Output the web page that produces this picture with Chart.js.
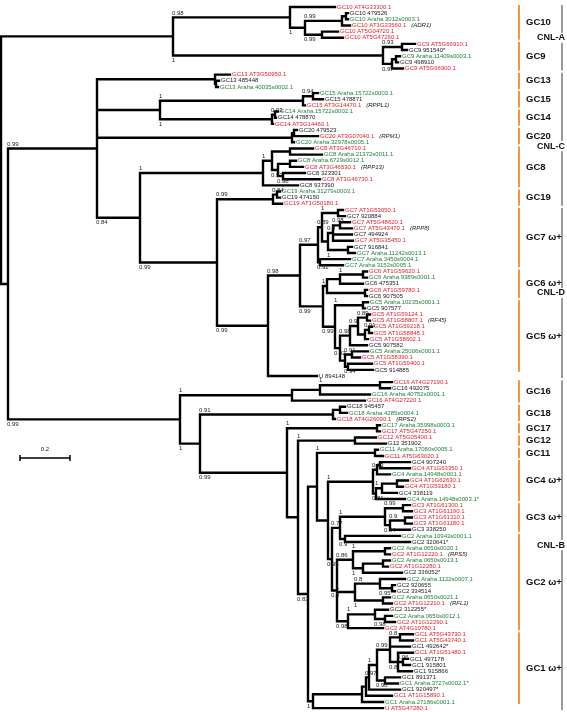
<!DOCTYPE html>
<html>
<head>
<meta charset="utf-8">
<script src="https://cdn.jsdelivr.net/npm/chart.js@4/dist/chart.umd.min.js"></script>
<style>
  html, body { margin: 0; padding: 0; background: #fff; }
  #wrap { width: 567px; height: 712px; position: relative; }
</style>
</head>
<body>
<div id="wrap"><canvas id="tree"></canvas></div>
<script>
// Leaf labels, top to bottom
const leafNames = [
  'GC10 AT4G33300.1', 'GC10 479526', 'GC10 Araha.3012s0003.1', 'GC10 AT1G33560.1', 'GC10 AT5G04720.1', 'GC10 AT5G47260.1',
  'GC9 AT5G66910.1', 'GC9 951540*', 'GC9 Araha.11409s0003.1', 'GC9 498910', 'GC9 AT5G66900.1',
  'GC13 AT3G50950.1', 'GC13 485448', 'GC13 Araha.40035s0002.1',
  'GC15 Araha.15722s0003.1', 'GC15 478871', 'GC15 AT3G14470.1',
  'GC14 Araha.15722s0002.1', 'GC14 478870', 'GC14 AT3G14460.1',
  'GC20 479523', 'GC20 AT3G07040.1', 'GC20 Araha.32978s0005.1',
  'GC8 AT3G46710.1', 'GC8 Araha.21372s0011.1', 'GC8 Araha.6729s0012.1', 'GC8 AT3G46530.1', 'GC8 323301', 'GC8 AT3G46730.1', 'GC8 937390',
  'GC19 Araha.31279s0003.1', 'GC19 474150', 'GC19 AT1G50180.1',
  'GC7 AT1G53050.1', 'GC7 920884', 'GC7 AT5G48620.1', 'GC7 AT5G43470.1', 'GC7 494924', 'GC7 AT5G35450.1', 'GC7 916841',
  'GC7 Araha.11242s0013.1', 'GC7 Araha.3450s0004.1', 'GC7 Araha.3152s0005.1',
  'GC6 AT1G59620.1', 'GC6 Araha.9389s0001.1', 'GC6 475351', 'GC6 AT1G59780.1', 'GC6 907505',
  'GC5 Araha.10235s0001.1', 'GC5 907577', 'GC5 AT1G59124.1', 'GC5 AT1G58807.1', 'GC5 AT1G59218.1', 'GC5 AT1G58848.1',
  'GC5 AT1G58602.1', 'GC5 907582', 'GC5 Araha.25006s0001.1', 'GC5 AT1G58390.1', 'GC5 AT1G59400.1', 'GC5 914885',
  'U 894148',
  'GC16 AT4G27190.1', 'GC16 492075', 'GC16 Araha.40752s0001.1', 'GC16 AT4G27220.1',
  'GC18 945457', 'GC18 Araha.4285s0004.1', 'GC18 AT4G26090.1',
  'GC17 Araha.35998s0003.1', 'GC17 AT5G47250.1',
  'GC12 AT5G05400.1', 'G12 351902',
  'GC11 Araha.17080s0005.1', 'GC11 AT5G63020.1',
  'GC4 907240', 'GC4 AT1G63350.1', 'GC4 Araha.14948s0001.1', 'GC4 AT1G62630.1', 'GC4 AT1G53180.1', 'GC4 338119', 'GC4 Araha.14948s0003.1*',
  'GC3 AT1G61300.1', 'GC3 AT1G61190.1', 'GC3 AT1G61310.1', 'GC3 AT1G61180.1', 'GC3 338250',
  'GC2 Araha.10943s0001.1', 'GC2 320641*', 'GC2 Araha.0650s0020.1', 'GC2 AT1G12220.1', 'GC2 Araha.0650s0013.1', 'GC2 AT1G12280.1',
  'GC2 336052*', 'GC2 Araha.1122s0007.1', 'GC2 920655', 'GC2 334514', 'GC2 Araha.0650s0021.1', 'GC2 AT1G12210.1',
  'GC2 312255*', 'GC2 Araha.0650s0012.1', 'GC2 AT1G12290.1', 'GC2 AT4G10780.1',
  'GC1 AT5G43730.1', 'GC1 AT5G43740.1', 'GC1 492642*', 'GC1 AT1G51480.1', 'GC1 497178', 'GC1 915801', 'GC1 915866',
  'GC1 891371', 'GC1 Araha.3727s0002.1*', 'GC1 920497*', 'GC1 AT1G15890.1', 'GC1 Araha.27186s0001.1',
  'U AT5G47280.1'
];

// Root-to-tip distance of each leaf (substitutions per site x 100)
const leafDepths = [
  134.0, 139.2, 139.2, 140.0, 135.2, 137.2,
  166.0, 162.8, 160.0, 159.2, 161.2,
  92.0, 87.6, 87.2,
  127.2, 129.2, 122.0,
  111.2, 110.4, 109.2,
  118.8, 127.2, 117.6,
  125.2, 128.8, 118.4, 121.2, 122.0, 128.0, 119.2,
  112.0, 112.0, 112.8,
  137.2, 138.0, 140.0, 140.8, 140.8, 141.2, 140.8, 142.0, 140.0, 137.2,
  146.8, 146.8, 145.2, 146.8, 146.8,
  147.2, 146.0, 148.0, 148.0, 148.8, 148.8, 147.2, 146.8, 147.2, 144.0, 148.8, 149.2,
  126.8,
  156.8, 156.0, 148.0, 146.0,
  138.0, 138.8, 134.0,
  152.0, 152.0,
  150.4, 154.4,
  151.2, 153.2,
  164.0, 164.0, 156.0, 163.2, 161.2, 158.8, 162.0,
  164.0, 164.8, 164.8, 164.8, 164.0,
  160.0, 164.0, 156.0, 156.0, 156.0, 155.2, 160.8, 162.0, 158.0, 158.0, 156.0, 156.8, 155.2, 156.8, 158.0, 153.2,
  165.2, 165.2, 164.0, 165.2, 163.2, 164.0, 164.8, 160.0, 159.2, 160.0, 156.8, 153.2,
  153.2
];

// Known resistance genes shown next to some leaves
const geneNotes = { 3: 'ADR1', 16: 'RPPL1', 21: 'RPM1', 26: 'RPP13', 36: 'RPP8', 51: 'RF45', 67: 'RPS2', 89: 'RPS5', 97: 'RFL1' };

// Gene clusters: name, first leaf, last leaf, omega+ flag
const clusterNames = ['GC10', 'GC9', 'GC13', 'GC15', 'GC14', 'GC20', 'GC8', 'GC19', 'GC7', 'GC6', 'GC5',
  'GC16', 'GC18', 'GC17', 'GC12', 'GC11', 'GC4', 'GC3', 'GC2', 'GC1'];
const clusterFirst = [0, 6, 11, 14, 17, 20, 23, 30, 33, 43, 48, 61, 65, 68, 70, 72, 74, 81, 86, 102];
const clusterLast = [5, 10, 13, 16, 19, 22, 29, 32, 42, 47, 59, 64, 67, 69, 71, 73, 80, 85, 101, 113];
const clusterOmega = [0, 0, 0, 0, 0, 0, 0, 0, 1, 1, 1, 0, 0, 0, 0, 0, 1, 1, 1, 1];

// CNL classes
const classNames = ['CNL-A', 'CNL-C', 'CNL-D', 'CNL-B'];
const classFirst = [0, 11, 33, 61];
const classLast = [10, 32, 60, 114];

// Tree topology: N(node depth, posterior support, ...children); a number is a leaf index
const N = (d, s, ...kids) => ({ d, s, kids });
const tree = N(0.4, null,
  N(69.2, null,
    N(116, 0.98, 0, N(122, 1, N(136.8, 0.99, N(138.4, null, 1, 2), 3), N(128.8, 0.99, 4, 5))),
    N(153.2, 1, N(160.8, 0.93, 6, 7), N(156.8, 0.97, N(158.4, null, 8, 9), 10))),
  N(3.2, null,
    N(38.8, 0.99,
      N(86, null, 11, N(86.4, null, 12, 13)),
      N(64, null,
        N(121.2, 1, N(125.2, 0.94, 14, 15), 16),
        N(108.8, 1, N(110, 0.93, 17, 18), 19)),
      N(116.8, 1, N(117.6, null, 20, 21), 22),
      N(56, 0.84,
        N(105.2, 1,
          N(108.8, 1, N(116, null, 23, 24), N(111.2, 0.93, N(116, null, 25, 26), N(113.2, 0.98, 27, 28))),
          29),
        N(86.8, 0.99,
          N(109.2, 0.99, N(110.8, 0.84, 30, 31), 32),
          N(107.2, 0.99,
            N(120, 0.98,
              N(127.2, 0.97,
                N(128.8, 0.89,
                  N(135.2, 1, 33, 34),
                  N(131.2, null,
                    N(133.2, 0.9, N(136, 0.98, 35, 36), 37, 38),
                    N(139.2, 1, 39, 40))),
                N(128, 0.92, 41, 42)),
              N(129.2, 0.99,
                N(130.8, 1, N(136, null, N(145.2, 1, 43, 44), 45), N(146, null, 46, 47)),
                N(134, 0.99,
                  N(145.2, 1, 48, 49),
                  N(136, 0.92,
                    N(140, 0.98,
                      N(143.2, 0.9, N(146.8, 0.89, 50, 51), N(146, null, N(147.6, 0.91, 52, 53), 54)),
                      55),
                    N(138, null, N(140.8, 0.91, 56, 57), N(139.2, 0.94, 58, 59)))))),
            60)))),
    N(72, 0.99,
      N(116.8, 1, N(128, null, N(152, 1, 61, 62), 63), 64),
      N(80, 1,
        N(133.2, 0.91, N(136, null, 65, 66), 67),
        N(114.8, 0.99,
          N(150.8, 1, 68, 69),
          N(119.2, null,
            N(142, 1, 70, 71),
            N(123.2, 0.82,
              N(126.8, null,
                N(150, 1, 72, 73),
                N(131.2, null,
                  N(149.2, 1,
                    N(150.8, 0.93, N(152, null, 74, 75), 76),
                    N(150.4, 0.81, N(152.8, 1, N(158.8, null, 77, 78), 79), 80)),
                  N(132.8, 0.95,
                    N(136, 0.77,
                      N(154, 1, N(161.2, 0.99, 81, 82), N(156, 0.94, N(162, 0.9, 83, 84), 85)),
                      N(138, 0.9, 86, 87)),
                    N(134.8, 0.9,
                      N(141.2, 0.86, N(154, 1, 88, 89), N(145.2, 1, N(153.2, null, 90, 91), 92)),
                      N(142, 1, N(152, 0.8, 93, N(156.8, 0.95, 94, 95)), N(153.2, 1, 96, 97)),
                      N(139.2, 0.98, N(150, 1, 98, N(154, 0.98, 99, 100)), 101))))),
              N(125.2, 1,
                N(144.8, null,
                  N(146.4, null,
                    N(147.6, 0.97,
                      N(150.8, 1,
                        N(156, 0.99, N(160, 0.8, 102, 103), 104, N(159.2, 0.8, 105, N(161.2, 0.96, 106, 107), 108)),
                        N(154, 0.98, 109, 110)),
                      111),
                    112),
                  113),
                114))))))));

const SCALE_BAR = 20; // 0.2 substitutions per site

// ---- layout: turn the topology into branch segments ----
const GAP = { x: NaN, y: NaN };
const branchPts = [];
const supports = [];

function place(node) {
  if (typeof node === 'number') return { x: leafDepths[node], y: node };
  const kids = node.kids.map(place);
  const first = kids[0], last = kids[kids.length - 1];
  const y = (first.y + last.y) / 2;
  branchPts.push({ x: first.x, y: first.y }, { x: node.d, y: first.y },
    { x: node.d, y: last.y }, { x: last.x, y: last.y }, GAP);
  kids.slice(1, -1).forEach(k => branchPts.push({ x: node.d, y: k.y }, { x: k.x, y: k.y }, GAP));
  node.kids.forEach((k, i) => {
    if (typeof k !== 'number' && k.s != null) {
      supports.push({ x: node.d, y: kids[i].y, s: k.s, below: i === kids.length - 1 });
    }
  });
  return { x: node.d, y };
}
place(tree);

const RED = '#e3202b', GREEN = '#23813d', ORANGE = '#f5943c', GREY = '#9b9b9b';
const leafColor = name => /AT\dG/.test(name) ? RED : (/Araha/.test(name) ? GREEN : '#1a1a1a');
const FONT = '"Liberation Sans", Arial, sans-serif';

const treeText = {
  id: 'treeText',
  afterDatasetsDraw(chart) {
    const { ctx, scales: { x: xs, y: ys } } = chart;
    ctx.save();
    ctx.textBaseline = 'middle';

    // leaf labels
    leafNames.forEach((name, i) => {
      const px = xs.getPixelForValue(leafDepths[i]) + 2;
      const py = ys.getPixelForValue(i);
      ctx.font = '6px ' + FONT;
      ctx.fillStyle = leafColor(name);
      ctx.fillText(name, px, py);
      if (geneNotes[i]) {
        const w = ctx.measureText(name).width;
        ctx.font = 'italic 6px ' + FONT;
        ctx.fillStyle = '#1a1a1a';
        ctx.fillText('(' + geneNotes[i] + ')', px + w + 5, py);
      }
    });

    // support values
    ctx.font = '6px ' + FONT;
    ctx.fillStyle = '#222';
    supports.forEach(p => {
      const px = xs.getPixelForValue(p.x) - 1;
      const py = ys.getPixelForValue(p.y);
      ctx.textBaseline = p.below ? 'top' : 'bottom';
      ctx.fillText(String(p.s), px, p.below ? py + 2 : py - 1.5);
    });

    // scale bar
    const sx0 = xs.getPixelForValue(8), sx1 = xs.getPixelForValue(8 + SCALE_BAR);
    ctx.strokeStyle = '#000';
    ctx.lineWidth = 1.5;
    ctx.beginPath();
    ctx.moveTo(sx0, 458); ctx.lineTo(sx1, 458);
    ctx.moveTo(sx0, 455); ctx.lineTo(sx0, 461);
    ctx.moveTo(sx1, 455); ctx.lineTo(sx1, 461);
    ctx.stroke();
    ctx.textAlign = 'center';
    ctx.textBaseline = 'bottom';
    ctx.fillText('0.2', (sx0 + sx1) / 2, 452);
    ctx.textAlign = 'left';

    // cluster label rows, used to keep class names clear of them
    const clusterMid = clusterNames.map((_, i) =>
      (ys.getPixelForValue(clusterFirst[i]) + ys.getPixelForValue(clusterLast[i])) / 2);

    // CNL class bars and names
    classNames.forEach((name, i) => {
      const top = ys.getPixelForValue(classFirst[i]) - 4;
      const bot = ys.getPixelForValue(classLast[i]) + 4;
      ctx.strokeStyle = GREY;
      ctx.lineWidth = 2;
      ctx.beginPath();
      ctx.moveTo(562, top + 2); ctx.lineTo(562, bot - 2);
      ctx.stroke();
      ctx.font = 'bold 9px ' + FONT;
      ctx.textBaseline = 'middle';
      const w = ctx.measureText(name).width;
      let mid = (top + bot) / 2;
      const hit = clusterMid.find(m => Math.abs(m - mid) < 8);
      if (hit !== undefined) mid = hit + 10;
      ctx.fillStyle = '#fff';
      ctx.fillRect(565 - w - 2, mid - 5, w + 4, 10);
      ctx.fillStyle = '#111';
      ctx.textAlign = 'right';
      ctx.fillText(name, 565, mid);
      ctx.textAlign = 'left';
    });

    // gene cluster bars and names
    clusterNames.forEach((name, i) => {
      const top = ys.getPixelForValue(clusterFirst[i]) - 3;
      const bot = ys.getPixelForValue(clusterLast[i]) + 3;
      ctx.strokeStyle = ORANGE;
      ctx.lineWidth = 2;
      ctx.beginPath();
      ctx.moveTo(519, top + 1); ctx.lineTo(519, bot - 1);
      ctx.stroke();
      ctx.font = 'bold 9.5px ' + FONT;
      ctx.fillStyle = '#111';
      ctx.textBaseline = 'middle';
      ctx.fillText(name + (clusterOmega[i] ? ' \u03c9+' : ''), 526, clusterMid[i]);
    });
    ctx.restore();
  }
};

new Chart(document.getElementById('tree'), {
  type: 'scatter',
  data: {
    datasets: [{
      data: branchPts,
      showLine: true,
      spanGaps: false,
      borderColor: '#000',
      borderWidth: 2.4,
      borderJoinStyle: 'miter',
      borderCapStyle: 'square',
      pointRadius: 0,
      pointHoverRadius: 0
    }]
  },
  options: {
    responsive: true,
    maintainAspectRatio: false,
    animation: false,
    events: [],
    layout: { padding: 0 },
    plugins: { legend: { display: false }, tooltip: { enabled: false } },
    scales: {
      x: { type: 'linear', display: false, min: 0, max: 226.8 },
      y: { type: 'linear', display: false, reverse: true, min: -1.138, max: 114.63 }
    }
  },
  plugins: [treeText]
});
</script>
</body>
</html>
